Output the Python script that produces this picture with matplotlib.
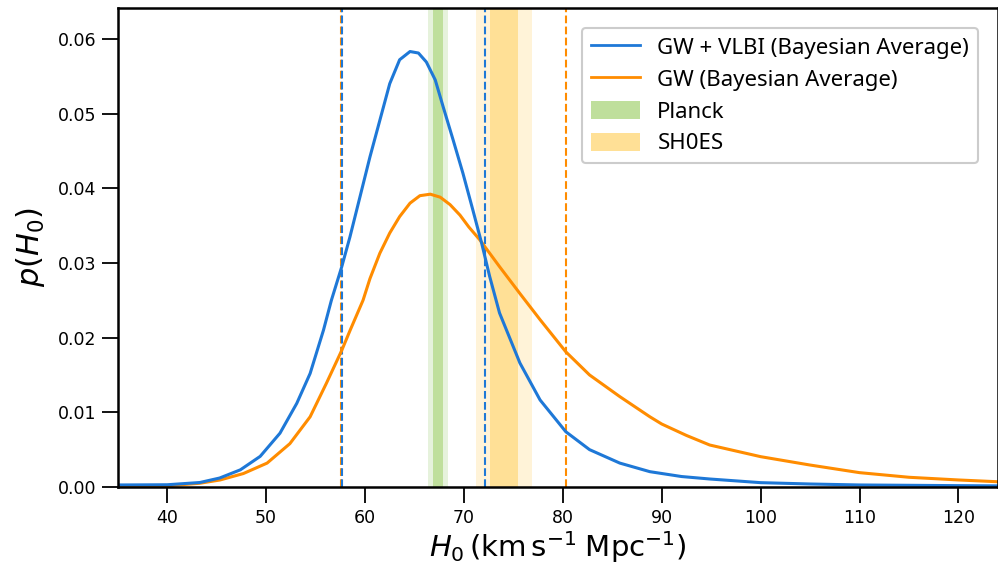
import numpy as np
import matplotlib
matplotlib.use("Agg")
import matplotlib.pyplot as plt
from matplotlib.patches import Patch
from matplotlib.lines import Line2D

# posterior
h0_vlbi = [35, 40, 43.3, 45.3, 47.4, 49.4, 51.4, 53.1, 54.45, 55.8, 56.6, 57.65, 58.48, 59.5,
           60.5, 61.5, 62.5, 63.5, 64.55, 65.4, 66.2, 67.1, 67.9, 68.9, 69.9, 70.9, 71.8,
           72.6, 73.6, 75.66, 77.7, 80.3, 82.7, 85.76, 88.8, 92, 94.85, 100, 105, 110, 120, 124]
p_vlbi = [0.00027, 0.0003, 0.0006, 0.0012, 0.0023, 0.0041, 0.0072, 0.0112, 0.0152, 0.0210,
          0.0250, 0.0295, 0.0335, 0.0389, 0.0442, 0.0491, 0.0540, 0.0572, 0.0583, 0.0581,
          0.0569, 0.0545, 0.0509, 0.0465, 0.0420, 0.0371, 0.0326, 0.0282, 0.0233, 0.0166,
          0.01165, 0.0074, 0.0050, 0.0032, 0.00205, 0.0014, 0.00107, 0.00058, 0.0004,
          0.00027, 0.00018, 0.00015]

h0_gw = [35, 40, 43.3, 45.35, 47.7, 50.1, 52.4, 54.45, 56.1, 57.65, 58.5, 59.8, 60.5, 61.5,
         62.5, 63.5, 64.55, 65.55, 66.6, 67.6, 68.6, 69.6, 70.5, 71.6, 72.6, 73.6, 75.66,
         77.7, 80.3, 82.7, 85.76, 88.8, 90, 92.5, 94.85, 100, 104.95, 110, 115, 120, 124]
p_gw = [0.00003, 0.00015, 0.0005, 0.00094, 0.0018, 0.0032, 0.0058, 0.0094, 0.0139, 0.0183,
        0.0210, 0.0250, 0.0279, 0.0313, 0.0340, 0.0362, 0.0380, 0.0390, 0.0392, 0.0388,
        0.0378, 0.0364, 0.0348, 0.0331, 0.0313, 0.0295, 0.0259, 0.0224, 0.0181, 0.0150,
        0.0121, 0.0094, 0.00843, 0.0069, 0.00562, 0.00406, 0.00295, 0.00192, 0.0013,
        0.00094, 0.0007]

vlbi_bounds = [57.65, 72.1]
gw_bounds = [57.55, 80.3]

planck = (67.4, 0.5)
shoes = (74.03, 1.42)

blue = '#1e78d7'
orange = '#ff8c00'

fig = plt.figure(figsize=(9.98, 5.66), dpi=100)
ax = fig.add_axes([0.118, 0.1396, 0.882, 0.8463])

# bands
ax.axvspan(planck[0] - 2 * planck[1], planck[0] + 2 * planck[1], color='#e6f2dc', lw=0)
ax.axvspan(planck[0] - planck[1], planck[0] + planck[1], color='#bfdf9c', lw=0)
ax.axvspan(shoes[0] - 2 * shoes[1], shoes[0] + 2 * shoes[1], color='#fff3d8', lw=0)
ax.axvspan(shoes[0] - shoes[1], shoes[0] + shoes[1], color='#ffe096', lw=0)

for b in gw_bounds:
    ax.axvline(b, color=orange, ls='--', lw=1.5)
for b in vlbi_bounds:
    ax.axvline(b, color=blue, ls='--', lw=1.5)

ax.plot(h0_gw, p_gw, color=orange, lw=2.2)
ax.plot(h0_vlbi, p_vlbi, color=blue, lw=2.2)

ax.set_xlim(35, 124)
ax.set_ylim(0, max(p_vlbi) * 1.1)
ax.set_xticks([40, 50, 60, 70, 80, 90, 100, 110, 120])
ax.set_yticks([0.0, 0.01, 0.02, 0.03, 0.04, 0.05, 0.06])
ax.yaxis.set_major_formatter(matplotlib.ticker.FormatStrFormatter('%.2f'))
ax.tick_params(length=11.5, width=1.3, labelsize=12.5, pad=4)
for s in ax.spines.values():
    s.set_linewidth(1.8)

ax.set_xlabel(r'$H_0\,(\mathrm{km\,s^{-1}\;Mpc^{-1}})$', fontsize=21, labelpad=2)
ax.set_ylabel(r'$p(H_0)$', fontsize=22, labelpad=8)

handles = [Line2D([], [], color=blue, lw=2),
           Line2D([], [], color=orange, lw=2),
           Patch(color='#bfdf9c', lw=0),
           Patch(color='#ffe096', lw=0)]
labels = ['GW + VLBI (Bayesian Average)', 'GW (Bayesian Average)', 'Planck', 'SH0ES']
leg = ax.legend(handles, labels, loc='upper right',
                bbox_to_anchor=(1 - 20 / 880, 1 - 20 / 479), borderaxespad=0,
                prop={'family': 'Noto Sans', 'size': 16}, handlelength=2.2,
                handleheight=0.9, handletextpad=0.8, labelspacing=0.45, borderpad=0.4,
                fancybox=True, framealpha=1, edgecolor='#cccccc')
leg.get_frame().set_linewidth(1.5)

fig.savefig('out.png', dpi=100)
